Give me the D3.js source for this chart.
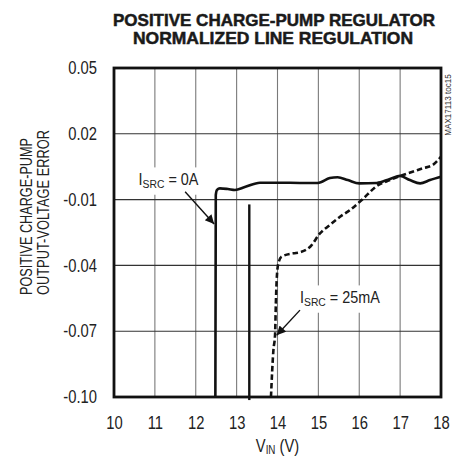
<!DOCTYPE html>
<html>
<head>
<meta charset="utf-8">
<script src="https://cdn.jsdelivr.net/npm/d3@7"></script>
<style>
  body { margin: 0; background: #fff; }
  text { font-family: "Liberation Sans", Arial, sans-serif; }
</style>
</head>
<body>
<svg id="chart"></svg>
<script>
// values
const xTicks = [10, 11, 12, 13, 14, 15, 16, 17, 18]
const yTicks = [0.05, 0.02, -0.01, -0.04, -0.07, -0.10]

const vinZero = [12.48, 12.49, 12.52, 12.59, 12.79, 12.96, 13.20, 13.57, 14.06, 14.55, 14.99, 15.28, 15.47, 15.72, 16.0, 16.43, 16.75, 17.0, 17.24, 17.49, 17.73, 18.0]
const errZero = [-0.10, -0.0079, -0.0056, -0.0049, -0.0052, -0.0056, -0.0043, -0.0023, -0.0023, -0.0024, -0.0024, -0.0002, 0.0002, -0.0011, -0.0026, -0.0024, -0.0006, 0.0008, -0.0011, -0.0026, -0.0011, 0.0004]

const vin25 = [13.84, 13.90, 13.94, 13.96, 13.98, 14.02, 14.10, 14.39, 14.55, 14.80, 15.04, 15.28, 15.53, 15.77, 16.06, 16.46, 16.75, 17.07, 17.56, 17.80, 18.0]
const err25 = [-0.10, -0.0786, -0.0718, -0.0572, -0.0467, -0.0391, -0.0360, -0.0345, -0.0340, -0.0315, -0.0254, -0.0216, -0.0178, -0.0148, -0.0102, -0.0034, -0.0011, 0.0012, 0.0043, 0.0058, 0.0096]

// stray vertical trace near 13.3V
const vinStray = [13.31, 13.31]
const errStray = [-0.0122, -0.1014]

const margin = { top: 68, right: 14, bottom: 60, left: 114 }
const width = 455
const height = 457
const graphWidth = width - margin.left - margin.right
const graphHeight = height - margin.top - margin.bottom

const svg = d3.select("#chart")
  .attr("width", width)
  .attr("height", height)

const xScale = d3.scaleLinear().domain([10, 18]).range([margin.left, margin.left + graphWidth])
const yScale = d3.scaleLinear().domain([-0.10, 0.05]).range([margin.top + graphHeight, margin.top])

// squeeze single-run text horizontally, the original uses a narrow face
function narrow(sel, k) {
  sel.each(function () {
    const len = this.getComputedTextLength()
    d3.select(this).attr("textLength", len * k).attr("lengthAdjust", "spacingAndGlyphs")
  })
}

// title
const title = svg.append("g")
  .attr("font-weight", "bold")
  .attr("font-size", 16.5)
  .attr("text-anchor", "middle")
  .attr("fill", "#1a1a1a")
  .attr("stroke", "#1a1a1a")
  .attr("stroke-width", 0.5)
title.append("text").attr("x", 274).attr("y", 25.5)
  .attr("textLength", 322).attr("lengthAdjust", "spacingAndGlyphs")
  .text("POSITIVE CHARGE-PUMP REGULATOR")
title.append("text").attr("x", 273).attr("y", 44)
  .attr("textLength", 280).attr("lengthAdjust", "spacingAndGlyphs")
  .text("NORMALIZED LINE REGULATION")

// grid
svg.append("g")
  .selectAll("line")
  .data(xTicks.slice(1, -1))
  .join("line")
  .attr("x1", d => xScale(d)).attr("x2", d => xScale(d))
  .attr("y1", margin.top).attr("y2", margin.top + graphHeight)
  .attr("stroke", "#7a7a7a").attr("stroke-width", 1.1)

svg.append("g")
  .selectAll("line")
  .data(yTicks.slice(1, -1))
  .join("line")
  .attr("x1", margin.left).attr("x2", margin.left + graphWidth)
  .attr("y1", d => yScale(d)).attr("y2", d => yScale(d))
  .attr("stroke", "#333").attr("stroke-width", 1.1)

// axes labels
svg.append("g")
  .attr("transform", `translate(0, ${margin.top + graphHeight})`)
  .call(d3.axisBottom(xScale).tickValues(xTicks).tickSize(0).tickPadding(19).tickFormat(d3.format("d")))
  .call(g => g.select(".domain").remove())
  .call(g => g.selectAll("text").attr("font-size", 18).attr("fill", "#222").attr("font-family", null).call(narrow, 0.82))

svg.append("g")
  .attr("transform", `translate(${margin.left}, 0)`)
  .call(d3.axisLeft(yScale).tickValues(yTicks).tickSize(0).tickPadding(17).tickFormat(d => d.toFixed(2)))
  .call(g => g.select(".domain").remove())
  .call(g => g.selectAll("text").attr("font-size", 18).attr("fill", "#222").attr("font-family", null).call(narrow, 0.82))

// x title, squeezed through a scale on its group
const xTitle = svg.append("g")
  .attr("transform", `translate(${margin.left + graphWidth / 2}, 452) scale(0.82, 1)`)
  .append("text")
  .attr("text-anchor", "middle")
  .attr("font-size", 18)
  .attr("fill", "#222")
xTitle.append("tspan").text("V")
xTitle.append("tspan").attr("font-size", 12).attr("dy", 2).text("IN")
xTitle.append("tspan").attr("dy", -2).text(" (V)")

const yTitle = svg.append("g")
  .attr("transform", "translate(0, 295) rotate(-90)")
  .attr("font-size", 17)
  .attr("fill", "#222")
yTitle.append("text").attr("x", 0).attr("y", 32)
  .attr("textLength", 157).attr("lengthAdjust", "spacingAndGlyphs")
  .text("POSITIVE CHARGE-PUMP")
yTitle.append("text").attr("x", 0).attr("y", 49)
  .attr("textLength", 165).attr("lengthAdjust", "spacingAndGlyphs")
  .text("OUTPUT-VOLTAGE ERROR")

svg.append("text")
  .attr("transform", "translate(451, 105) rotate(-90)")
  .attr("text-anchor", "middle")
  .attr("font-size", 9.5)
  .attr("fill", "#333")
  .text("MAX17113 toc15")
  .call(narrow, 0.85)

// curves
const line = d3.line()
  .x(d => xScale(d[0]))
  .y(d => yScale(d[1]))
  .curve(d3.curveMonotoneX)

svg.append("path")
  .datum(d3.zip(vinZero, errZero))
  .attr("fill", "none").attr("stroke", "#111").attr("stroke-width", 2.6)
  .attr("stroke-linejoin", "round")
  .attr("d", line)

svg.append("path")
  .datum(d3.zip(vin25, err25))
  .attr("fill", "none").attr("stroke", "#111").attr("stroke-width", 2.6)
  .attr("stroke-dasharray", "5.5,3")
  .attr("d", line)

svg.append("path")
  .datum(d3.zip(vinStray, errStray))
  .attr("fill", "none").attr("stroke", "#111").attr("stroke-width", 2.4)
  .attr("d", d3.line().x(d => xScale(d[0])).y(d => yScale(d[1])))

// frame
svg.append("rect")
  .attr("x", margin.left).attr("y", margin.top)
  .attr("width", graphWidth).attr("height", graphHeight)
  .attr("fill", "none").attr("stroke", "#111").attr("stroke-width", 2.8)

// annotations
svg.append("defs").append("marker")
  .attr("id", "arrow")
  .attr("viewBox", "0 0 10 10")
  .attr("refX", 10).attr("refY", 5)
  .attr("markerWidth", 11).attr("markerHeight", 9)
  .attr("markerUnits", "userSpaceOnUse")
  .attr("orient", "auto")
  .append("path").attr("d", "M0,0L10,5L0,10Z").attr("fill", "#111")

function label(x, y, sub, rest) {
  const g = svg.append("g")
    .attr("transform", `translate(${xScale(x)}, ${yScale(y)}) scale(0.9, 1)`)
  const t = g.append("text")
    .attr("font-size", 16).attr("fill", "#222")
  t.append("tspan").text("I")
  t.append("tspan").attr("font-size", 11.5).attr("dy", 2.5).text(sub)
  t.append("tspan").attr("dy", -2.5).text(rest)
  const b = t.node().getBBox()
  g.insert("rect", "text")
    .attr("x", b.x - 4).attr("y", b.y - 3)
    .attr("width", b.width + 8).attr("height", b.height + 8)
    .attr("fill", "#fff")
}

function arrow(x1, y1, x2, y2) {
  svg.append("line")
    .attr("x1", xScale(x1)).attr("y1", yScale(y1))
    .attr("x2", xScale(x2)).attr("y2", yScale(y2))
    .attr("stroke", "#111").attr("stroke-width", 1.4)
    .attr("marker-end", "url(#arrow)")
}

label(10.6, -0.0034, "SRC", " = 0A")
arrow(11.74, -0.0064, 12.45, -0.0211)

label(14.55, -0.0572, "SRC", " = 25mA")
arrow(14.55, -0.0604, 13.98, -0.0718)
</script>
</body>
</html>
